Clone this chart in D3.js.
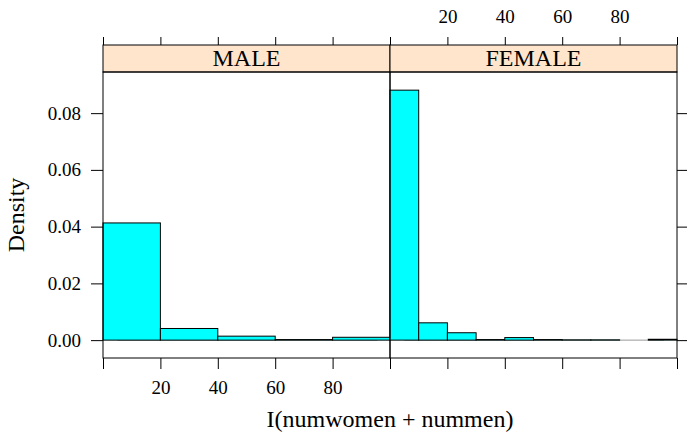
<!DOCTYPE html>
<html>
<head>
<meta charset="utf-8">
<script src="https://cdn.jsdelivr.net/npm/d3@7"></script>
<style>
  body { margin: 0; background: #fff; }
  text { font-family: "Liberation Serif", "DejaVu Serif", serif; fill: #000; }
</style>
</head>
<body>
<div id="chart"></div>
<script>
// Panel names
var panels = ["MALE", "FEMALE"];

// Histogram bins (edges) and densities for each panel
var maleBreaks = [0, 20, 40, 60, 80, 100];
var maleDensity = [0.0413, 0.0041, 0.0014, 0.0002, 0.001];

var femaleBreaks = [0, 10, 20, 30, 40, 50, 60, 70, 80, 90, 100];
var femaleDensity = [0.0881, 0.0061, 0.0026, 0.0002, 0.0009, 0.0002, 0.0001, 0.0001, 0.0, 0.0003];

// Tick values
var xTicks = [0, 20, 40, 60, 80, 100];
var xTickLabels = [20, 40, 60, 80];
var yTicks = [0, 0.02, 0.04, 0.06, 0.08];

// Define SVG area dimensions
var svgWidth = 687;
var svgHeight = 434;

// Panel geometry
var panelLeft = 103;
var panelWidth = 287;
var stripTop = 45;
var stripHeight = 27;
var panelTop = stripTop + stripHeight;
var panelBottom = 358;

// Font sizes (lattice: axis text is 0.8 of the label text)
var labelSize = "24px";
var tickSize = "19px";

var svg = d3
  .select("#chart")
  .append("svg")
  .attr("width", svgWidth)
  .attr("height", svgHeight);

// Shared scales
var xScale = d3.scaleLinear().domain([0, 100]).range([0, panelWidth]);
var yScale = d3.scaleLinear().domain([-0.0063, 0.0945]).range([panelBottom, panelTop]);

var data = [
  { name: panels[0], breaks: maleBreaks, density: maleDensity },
  { name: panels[1], breaks: femaleBreaks, density: femaleDensity },
];

data.forEach((p, i) => {
  var g = svg
    .append("g")
    .attr("transform", `translate(${panelLeft + i * panelWidth}, 0)`);

  // bins
  var bins = p.density.map((d, j) => ({ x0: p.breaks[j], x1: p.breaks[j + 1], y: d }));

  // zero reference line
  g.append("line")
    .attr("x1", xScale(5))
    .attr("x2", xScale(95.5))
    .attr("y1", yScale(0))
    .attr("y2", yScale(0))
    .attr("stroke", "#999")
    .attr("stroke-width", 1);

  // bars
  g.selectAll("rect.bar")
    .data(bins)
    .enter()
    .append("rect")
    .attr("class", "bar")
    .attr("x", (d) => xScale(d.x0))
    .attr("y", (d) => yScale(d.y))
    .attr("width", (d) => xScale(d.x1) - xScale(d.x0))
    .attr("height", (d) => yScale(0) - yScale(d.y))
    .attr("fill", "#00FFFF")
    .attr("stroke", "#000")
    .attr("stroke-width", 1);

  // strip
  g.append("rect")
    .attr("x", 0)
    .attr("y", stripTop)
    .attr("width", panelWidth)
    .attr("height", stripHeight)
    .attr("fill", "#FFE5CC")
    .attr("stroke", "#000")
    .attr("stroke-width", 1);

  g.append("text")
    .attr("x", panelWidth / 2)
    .attr("y", stripTop + 21)
    .attr("text-anchor", "middle")
    .style("font-size", labelSize)
    .text(p.name);

  // panel border
  g.append("rect")
    .attr("x", 0)
    .attr("y", panelTop)
    .attr("width", panelWidth)
    .attr("height", panelBottom - panelTop)
    .attr("fill", "none")
    .attr("stroke", "#000")
    .attr("stroke-width", 1);

  // bottom axis ticks (labels on the first panel only)
  var bottomAxis = d3
    .axisBottom(xScale)
    .tickValues(xTicks)
    .tickSize(11)
    .tickFormat((d) => (i === 0 && xTickLabels.includes(d) ? d : ""));
  var bx = g.append("g").attr("transform", `translate(0, ${panelBottom})`).call(bottomAxis);

  // top axis ticks (labels on the second panel only)
  var topAxis = d3
    .axisTop(xScale)
    .tickValues(xTicks)
    .tickSize(8)
    .tickFormat((d) => (i === 1 && xTickLabels.includes(d) ? d : ""));
  var tx = g.append("g").attr("transform", `translate(0, ${stripTop})`).call(topAxis);

  [bx, tx].forEach((ax) => {
    ax.select(".domain").remove();
    ax.selectAll("line").attr("stroke", "#000");
    ax.selectAll("text")
      .style("font-size", tickSize)
      .style("font-family", "Liberation Serif");
  });
  bx.selectAll("text").attr("dy", null).attr("y", 36);
  tx.selectAll("text").attr("dy", null).attr("y", -22);
});

// left axis on the first panel, ticks only on the right of the second
var leftAxis = d3
  .axisLeft(yScale)
  .tickValues(yTicks)
  .tickSize(12)
  .tickFormat(d3.format(".2f"));
var ly = svg.append("g").attr("transform", `translate(${panelLeft}, 0)`).call(leftAxis);

var rightAxis = d3.axisRight(yScale).tickValues(yTicks).tickSize(10).tickFormat("");
var ry = svg
  .append("g")
  .attr("transform", `translate(${panelLeft + 2 * panelWidth}, 0)`)
  .call(rightAxis);

[ly, ry].forEach((ax) => {
  ax.select(".domain").remove();
  ax.selectAll("line").attr("stroke", "#000");
  ax.selectAll("text")
    .style("font-size", tickSize)
    .style("font-family", "Liberation Serif");
});
ly.selectAll("text").attr("x", -22);

// Axis titles
svg
  .append("text")
  .attr("x", panelLeft + panelWidth)
  .attr("y", 427)
  .attr("text-anchor", "middle")
  .style("font-size", labelSize)
  .text("I(numwomen + nummen)");

svg
  .append("text")
  .attr("transform", `translate(24, ${(panelTop + panelBottom) / 2}) rotate(-90)`)
  .attr("text-anchor", "middle")
  .style("font-size", labelSize)
  .text("Density");
</script>
</body>
</html>
